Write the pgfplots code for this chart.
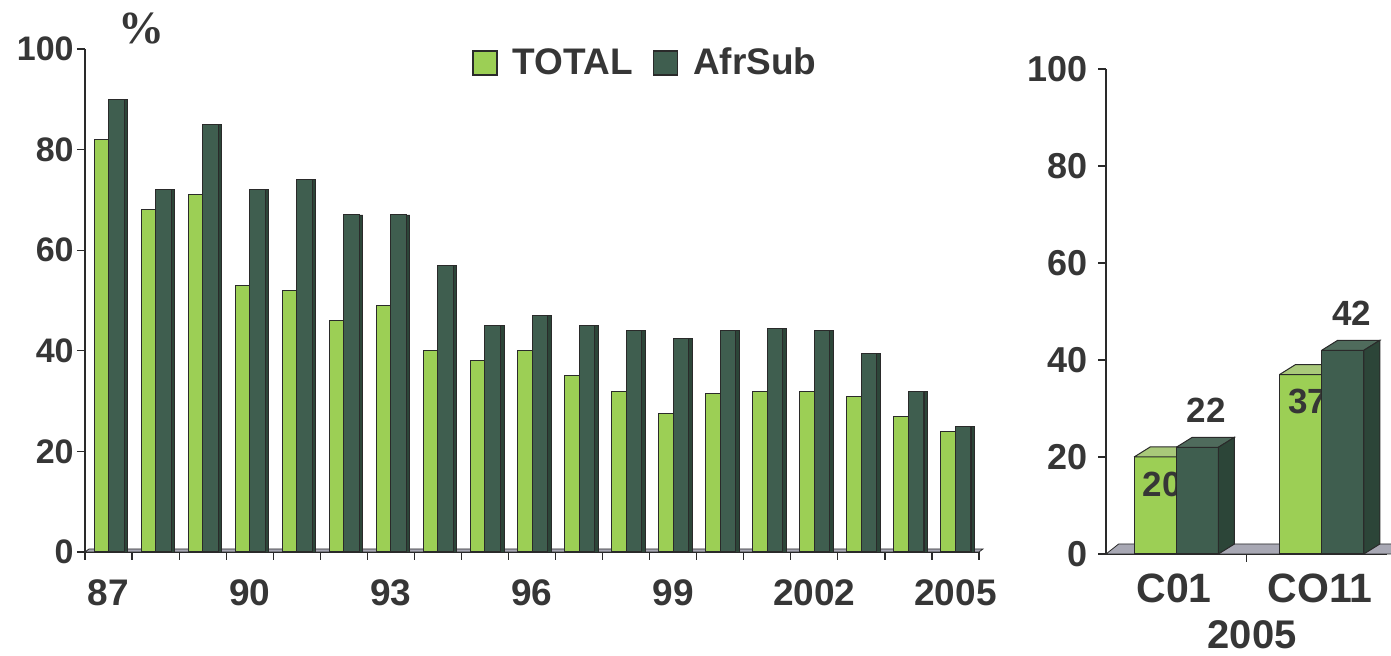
\documentclass[border=0pt]{standalone}
\usepackage{fontspec}
\setmainfont{Liberation Sans}
\newfontfamily\pctfont{Liberation Serif}
\usepackage{pgfplots}
\pgfplotsset{compat=1.18}
\usepackage{pgfplotstable}

\definecolor{lgreen}{HTML}{9CCF55}
\definecolor{dgreen}{HTML}{3F5E4F}
\definecolor{dside}{HTML}{2C4538}
\definecolor{lcap}{HTML}{A9C97A}
\definecolor{dcap}{HTML}{4F6B5C}
\definecolor{txt}{HTML}{363636}
\definecolor{outl}{HTML}{2A2A2A}
\definecolor{floorc}{HTML}{A8A8B4}

\pgfplotstableread{
x tot afr
0 82 90
1 68 72
2 71 85
3 53 72
4 52 74
5 46 67
6 49 67
7 40 57
8 38 45
9 40 47
10 35 45
11 32 44
12 27.5 42.5
13 31.5 44
14 32 44.5
15 32 44
16 31 39.5
17 27 32
18 24 25
}\lefttab

\pgfplotsset{rightgeom/.style={
  scale only axis, width=140.5pt, height=242.5pt,
  at={(553pt,51pt)}, anchor=south west,
  xmin=0, xmax=2, ymin=0, ymax=100, clip=false,
  /pgf/number format/assume math mode=true}}

\begin{document}
\begin{tikzpicture}[every node/.append style={text=txt}]
\path[use as bounding box] (0,0) rectangle (695.5pt,328pt);
\node[font=\pctfont\bfseries\fontsize{23}{24}\selectfont, inner sep=0pt] at (70.5pt,313.5pt) {\%};

\begin{axis}[
  scale only axis, width=447pt, height=251.5pt,
  at={(42.5pt,52pt)}, anchor=south west,
  xmin=-0.5, xmax=18.5, ymin=0, ymax=100,
  axis x line=bottom, axis y line=left,
  axis line style={-, draw=outl, line width=0.7pt},
  tick align=outside,
  xtick={0,3,...,18}, xticklabels={87,90,93,96,99,2002,2005},
  minor xtick={-0.5,0.5,...,18.5},
  major x tick style={draw=none},
  minor tick length=4pt, major tick length=4pt,
  ytick={0,20,...,100},
  tick style={draw=outl, line width=0.6pt},
  /pgf/number format/assume math mode=true,
  yticklabel style={font=\bfseries\fontsize{17}{18}\selectfont, inner sep=0pt, anchor=east, xshift=-1.5pt},
  xticklabel style={font=\bfseries\fontsize{18.5}{19}\selectfont, inner sep=0pt, anchor=north, yshift=-9.5pt},
  legend columns=2,
  legend style={at={(rel axis cs:0.4329,0.972)}, anchor=west, draw=none, fill=none,
    inner sep=0pt, font=\bfseries\fontsize{18.5}{20}\selectfont,
    nodes={inner sep=0pt},
    /tikz/every odd column/.append style={column sep=7.5pt},
    /tikz/every even column/.append style={column sep=10pt}},
  clip=false,
]
\addplot[fill=floorc, draw=outl, line width=0.4pt, forget plot]
  coordinates {(-0.5,0) (18.5,0) (18.585,0.6) (-0.415,0.6) (-0.5,0)};
\addplot[ybar, bar width=7.25pt, bar shift=-3.625pt, fill=lgreen, draw=outl, line width=0.5pt,
  legend image code/.code={\draw[fill=lgreen, draw=outl, line width=0.7pt] (0pt,-6pt) rectangle (12pt,6pt);}]
  table[x=x, y=tot] {\lefttab};
\addlegendentry{TOTAL}
\addplot[ybar, bar width=7.75pt, bar shift=3.875pt, fill=dgreen, draw=outl, line width=0.5pt,
  legend image code/.code={\draw[fill=dgreen, draw=outl, line width=0.7pt] (0pt,-6pt) rectangle (12pt,6pt);}]
  table[x=x, y=afr] {\lefttab};
\addlegendentry{AfrSub}
\addplot[ybar, bar width=1.75pt, bar shift=8.625pt, fill=dside, draw=outl, line width=0.4pt, forget plot]
  table[x=x, y=afr] {\lefttab};
\end{axis}

% right panel: axes, floor, light bars
\begin{axis}[
  rightgeom,
  axis x line=bottom, axis y line=left,
  axis line style={-, draw=outl, line width=0.7pt},
  tick align=outside,
  xtick={0.484,1.523}, xticklabels={C01,CO11},
  minor xtick={1},
  major x tick style={draw=none},
  minor tick length=4pt, major tick length=4pt,
  ytick={0,20,...,100},
  tick style={draw=outl, line width=0.6pt},
  yticklabel style={font=\bfseries\fontsize{18}{19}\selectfont, inner sep=0pt, anchor=east, xshift=-5pt},
  xticklabel style={font=\bfseries\fontsize{20.5}{21}\selectfont, inner sep=0pt, anchor=north, yshift=-5.5pt},
  xlabel={2005},
  xlabel style={font=\bfseries\fontsize{20}{21}\selectfont, inner sep=0pt, at={(axis description cs:0.52,0)}, anchor=north, yshift=-33pt},
]
\addplot[fill=floorc, draw=outl, line width=0.4pt, forget plot]
  coordinates {(0,0) (2.05,0) (2.14,2.06) (0.09,2.06) (0,0)};
\addplot[ybar, bar width=0.3, bar shift=-0.15, fill=lgreen, draw=outl, line width=0.5pt,
  nodes near coords, nodes near coords align=vertical,
  every node near coord/.append style={font=\bfseries\fontsize{17.5}{18}\selectfont, inner sep=0pt, yshift=-20pt, xshift=-7pt}]
  coordinates {(0.5,20) (1.535,37)};
\addplot[fill=lcap, draw=outl, line width=0.5pt, forget plot]
  coordinates {(0.2,20) (0.5,20) (0.614,22.06) (0.314,22.06) (0.2,20)};
\addplot[fill=lcap, draw=outl, line width=0.5pt, forget plot]
  coordinates {(1.235,37) (1.535,37) (1.649,39.06) (1.349,39.06) (1.235,37)};
\end{axis}

% right panel: dark bars on top
\begin{axis}[rightgeom, hide axis]
\addplot[ybar, bar width=0.3, bar shift=0.15, fill=dgreen, draw=outl, line width=0.5pt,
  nodes near coords, nodes near coords align=vertical,
  every node near coord/.append style={font=\bfseries\fontsize{17.5}{18}\selectfont, inner sep=0pt, yshift=12pt, xshift=15pt}]
  coordinates {(0.5,22) (1.535,42)};
\addplot[fill=dcap, draw=outl, line width=0.5pt, forget plot]
  coordinates {(0.5,22) (0.8,22) (0.914,24.06) (0.614,24.06) (0.5,22)};
\addplot[fill=dcap, draw=outl, line width=0.5pt, forget plot]
  coordinates {(1.535,42) (1.835,42) (1.949,44.06) (1.649,44.06) (1.535,42)};
\addplot[fill=dside, draw=outl, line width=0.5pt, forget plot]
  coordinates {(0.8,0) (0.914,2.06) (0.914,24.06) (0.8,22) (0.8,0)};
\addplot[fill=dside, draw=outl, line width=0.5pt, forget plot]
  coordinates {(1.835,0) (1.949,2.06) (1.949,44.06) (1.835,42) (1.835,0)};
\end{axis}
\end{tikzpicture}
\end{document}
